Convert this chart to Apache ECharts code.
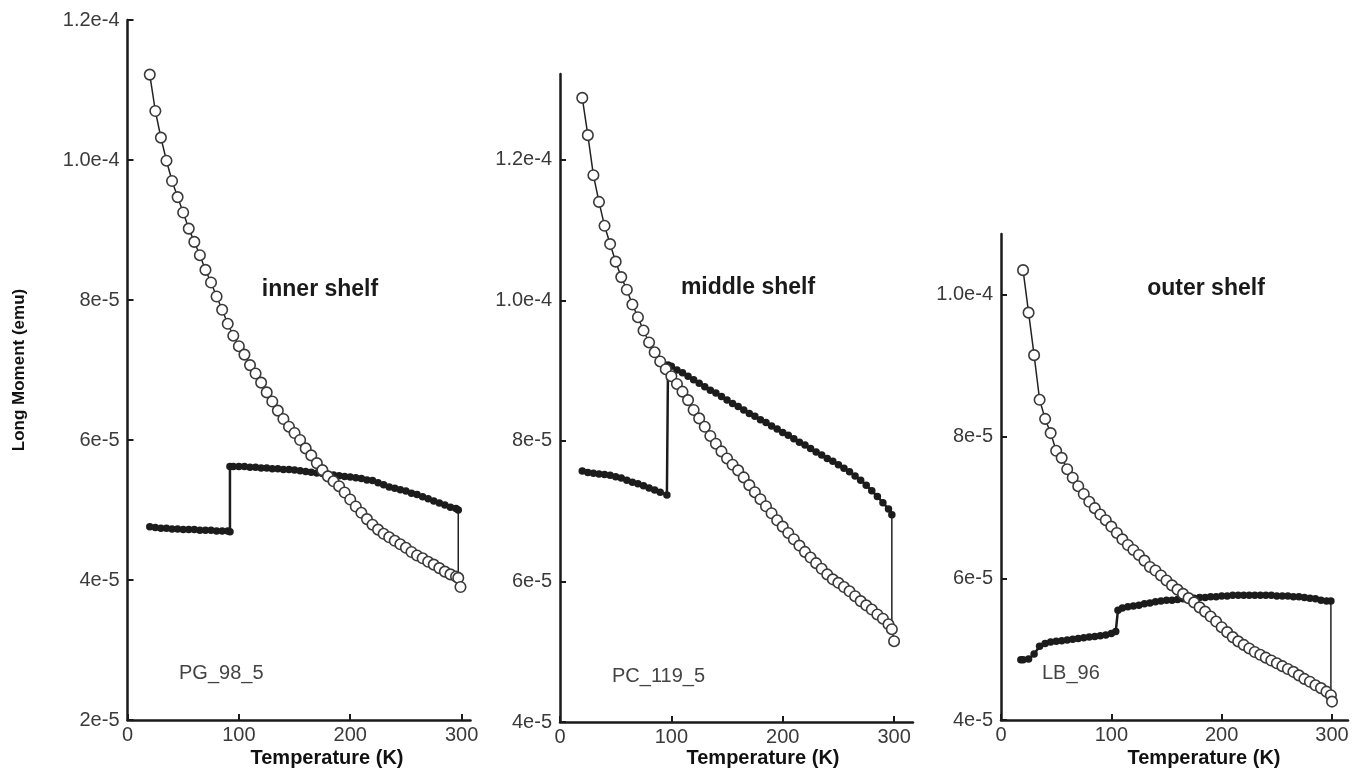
<!DOCTYPE html>
<html><head><meta charset="utf-8">
<script src="https://cdn.jsdelivr.net/npm/echarts@6/dist/echarts.min.js"></script>
<style>html,body{margin:0;padding:0;background:#fff}#c{width:1362px;height:772px}</style>
</head><body><div id="c"></div>
<script>
// ---- tick labels ----
const xTicks = [0, 100, 200, 300];
const yTicks1 = [2, 4, 6, 8, 10, 12];
const yLabels1 = ['2e-5', '4e-5', '6e-5', '8e-5', '1.0e-4', '1.2e-4'];
const yTicks2 = [4, 6, 8, 10, 12];
const yLabels2 = ['4e-5', '6e-5', '8e-5', '1.0e-4', '1.2e-4'];
const yTicks3 = [4, 6, 8, 10];
const yLabels3 = ['4e-5', '6e-5', '8e-5', '1.0e-4'];
const panelNames = ['inner shelf', 'middle shelf', 'outer shelf'];
const sampleNames = ['PG_98_5', 'PC_119_5', 'LB_96'];
const xTitle = 'Temperature (K)';
const yTitle = 'Long Moment (emu)';

// ---- data (moment in units of 1e-5 emu) ----
// Panel 1: inner shelf, open circles
const cT1 = [20,25,30,35,40,45,50,55,60,65,70,75,80,85,90,95,100,105,110,115,120,125,130,135,140,145,150,155,160,165,170,175,180,185,190,195,200,205,210,215,220,225,230,235,240,245,250,255,260,265,270,275,280,285,290,295,297,299];
const cV1 = [11.22,10.70,10.32,9.99,9.70,9.47,9.25,9.02,8.83,8.64,8.43,8.25,8.05,7.86,7.66,7.49,7.34,7.22,7.07,6.95,6.82,6.68,6.55,6.42,6.30,6.19,6.10,6.00,5.88,5.78,5.67,5.57,5.48,5.41,5.34,5.25,5.15,5.05,4.96,4.87,4.79,4.72,4.66,4.61,4.56,4.51,4.46,4.40,4.35,4.31,4.26,4.22,4.17,4.12,4.08,4.05,4.03,3.90];
// Panel 1: filled dots
const fT1 = [20,25,30,35,40,45,50,55,60,65,70,75,80,85,90,92,92,95,100,105,110,115,120,125,130,135,140,145,150,155,160,165,170,175,180,185,190,195,200,205,210,215,220,225,230,235,240,245,250,255,260,265,270,275,280,285,290,295,297];
const fV1 = [4.76,4.75,4.74,4.74,4.73,4.73,4.72,4.72,4.72,4.71,4.71,4.71,4.70,4.70,4.70,4.69,5.62,5.62,5.62,5.62,5.61,5.61,5.60,5.60,5.59,5.59,5.58,5.58,5.57,5.56,5.55,5.54,5.53,5.52,5.51,5.50,5.49,5.48,5.47,5.46,5.45,5.43,5.42,5.39,5.36,5.33,5.31,5.29,5.27,5.24,5.22,5.19,5.16,5.13,5.10,5.07,5.04,5.02,5.00];

// Panel 2: middle shelf, open circles
const cT2 = [20,25,30,35,40,45,50,55,60,65,70,75,80,85,90,95,100,105,110,115,120,125,130,135,140,145,150,155,160,165,170,175,180,185,190,195,200,205,210,215,220,225,230,235,240,245,250,255,260,265,270,275,280,285,290,295,298,300];
const cV2 = [12.88,12.35,11.78,11.40,11.06,10.80,10.55,10.33,10.15,9.94,9.76,9.57,9.40,9.26,9.13,9.02,8.92,8.81,8.70,8.58,8.44,8.32,8.20,8.07,7.96,7.85,7.75,7.66,7.58,7.48,7.37,7.27,7.17,7.07,6.97,6.87,6.78,6.69,6.60,6.51,6.42,6.34,6.26,6.18,6.10,6.03,5.98,5.92,5.86,5.79,5.72,5.66,5.60,5.53,5.47,5.39,5.32,5.15];
// Panel 2: filled dots
const fT2 = [20,25,30,35,40,45,50,55,60,65,70,75,80,85,90,96,97,100,105,110,115,120,125,130,135,140,145,150,155,160,165,170,175,180,185,190,195,200,205,210,215,220,225,230,235,240,245,250,255,260,265,270,275,280,285,290,295,298];
const fV2 = [7.57,7.55,7.54,7.53,7.52,7.51,7.49,7.47,7.44,7.41,7.39,7.36,7.33,7.30,7.27,7.23,9.08,9.06,9.01,8.97,8.92,8.87,8.82,8.77,8.72,8.68,8.63,8.58,8.53,8.49,8.44,8.39,8.35,8.30,8.26,8.21,8.17,8.12,8.08,8.03,7.98,7.94,7.89,7.84,7.80,7.75,7.71,7.66,7.61,7.56,7.50,7.44,7.37,7.29,7.21,7.12,7.03,6.95];

// Panel 3: outer shelf, open circles
const cT3 = [20,25,30,35,40,45,50,55,60,65,70,75,80,85,90,95,100,105,110,115,120,125,130,135,140,145,150,155,160,165,170,175,180,185,190,195,200,205,210,215,220,225,230,235,240,245,250,255,260,265,270,275,280,285,290,295,299,300];
const cV3 = [10.35,9.75,9.15,8.52,8.25,8.05,7.80,7.70,7.54,7.42,7.30,7.19,7.08,6.99,6.90,6.82,6.73,6.64,6.55,6.47,6.40,6.33,6.25,6.16,6.11,6.04,5.97,5.90,5.84,5.78,5.72,5.66,5.59,5.53,5.46,5.39,5.31,5.24,5.17,5.11,5.06,5.01,4.96,4.92,4.88,4.84,4.80,4.76,4.72,4.68,4.63,4.58,4.54,4.49,4.45,4.40,4.35,4.26];
// Panel 3: filled dots
const fT3 = [18,20,25,30,35,40,45,50,55,60,65,70,75,80,85,90,95,100,104,106,110,115,120,125,130,135,140,145,150,155,160,165,170,175,180,185,190,195,200,205,210,215,220,225,230,235,240,245,250,255,260,265,270,275,280,285,290,295,299];
const fV3 = [4.85,4.85,4.86,4.93,5.04,5.08,5.10,5.11,5.12,5.13,5.14,5.15,5.16,5.17,5.18,5.19,5.20,5.22,5.25,5.55,5.58,5.60,5.61,5.62,5.64,5.65,5.67,5.68,5.69,5.69,5.70,5.71,5.72,5.72,5.73,5.73,5.74,5.74,5.75,5.75,5.76,5.76,5.76,5.76,5.76,5.76,5.76,5.76,5.75,5.75,5.75,5.74,5.74,5.73,5.72,5.71,5.69,5.68,5.68];

// ---- build ----
const FONT = 'Liberation Sans, Arial, Helvetica, sans-serif';
const zip = (t, v) => t.map((x, i) => [x, v[i]]);
const panels = [
  {grid:{left:127.5, top:20, width:343, height:700}, xMax:308, yMin:2, yMax:12, yT:yTicks1, yL:yLabels1, cT:cT1, cV:cV1, fT:fT1, fV:fV1},
  {grid:{left:560, top:74, width:353, height:648}, xMax:317, yMin:4, yMax:13.22, yT:yTicks2, yL:yLabels2, cT:cT2, cV:cV2, fT:fT2, fV:fV2},
  {grid:{left:1001, top:234, width:347, height:486}, xMax:314.5, yMin:4, yMax:10.86, yT:yTicks3, yL:yLabels3, cT:cT3, cV:cV3, fT:fT3, fV:fV3}
];
const grid = [], xAxis = [], yAxis = [], series = [];
panels.forEach((p, i) => {
  grid.push(Object.assign({containLabel:false}, p.grid));
  xAxis.push({
    gridIndex:i, type:'value', min:0, max:p.xMax,
    axisLine:{onZero:false, lineStyle:{color:'#1a1a1a', width:2.5}},
    axisTick:{customValues:xTicks, inside:true, length:6, lineStyle:{color:'#1a1a1a', width:2}},
    axisLabel:{customValues:xTicks, color:'#3a3a3a', fontSize:20, fontFamily:FONT, margin:5},
    splitLine:{show:false}
  });
  yAxis.push({
    gridIndex:i, type:'value', min:p.yMin, max:p.yMax,
    axisLine:{show:true, onZero:false, lineStyle:{color:'#1a1a1a', width:2.5}},
    axisTick:{show:true, customValues:p.yT, inside:true, length:6, lineStyle:{color:'#1a1a1a', width:2}},
    axisLabel:{customValues:p.yT, color:'#3a3a3a', fontSize:20, fontFamily:FONT, margin:8,
      formatter:(v) => { const k = p.yT.findIndex(t => Math.abs(t - v) < 1e-6); return k >= 0 ? p.yL[k] : ''; }},
    splitLine:{show:false}
  });
  series.push({
    type:'line', xAxisIndex:i, yAxisIndex:i, data:zip(p.fT, p.fV),
    symbol:'circle', symbolSize:7.5, showSymbol:true,
    itemStyle:{color:'#1c1c1c'}, lineStyle:{color:'#1c1c1c', width:2.5},
    silent:true, z:2
  });
  series.push({
    type:'line', xAxisIndex:i, yAxisIndex:i,
    data:[[p.fT[p.fT.length-1], p.fV[p.fV.length-1]], [p.cT[p.cT.length-2], p.cV[p.cV.length-2]]],
    symbol:'none', lineStyle:{color:'#222', width:1.5}, silent:true, z:2
  });
  series.push({
    type:'line', xAxisIndex:i, yAxisIndex:i, data:zip(p.cT, p.cV),
    symbol:'circle', symbolSize:10.5, showSymbol:true,
    itemStyle:{color:'#ffffff', borderColor:'#3a3a3a', borderWidth:1.6},
    lineStyle:{color:'#222', width:1.5}, silent:true, z:3
  });
});

const txt = (x, y, t, size, weight, color, align, extra) => Object.assign({
  type:'text', x:x, y:y, silent:true,
  style:{text:t, fontSize:size, fontWeight:weight, fontFamily:FONT, fill:color, align:align, verticalAlign:'middle'}
}, extra || {});
const graphic = [
  txt(19, 370, yTitle, 17, 'bold', '#111', 'center', {rotation:Math.PI/2}),
  txt(327, 758, xTitle, 20, 'bold', '#111', 'center'),
  txt(763, 758, xTitle, 20, 'bold', '#111', 'center'),
  txt(1204, 758, xTitle, 20, 'bold', '#111', 'center'),
  txt(320, 290, panelNames[0], 23, 'bold', '#1a1a1a', 'center'),
  txt(748, 288, panelNames[1], 23, 'bold', '#1a1a1a', 'center'),
  txt(1206, 289, panelNames[2], 23, 'bold', '#1a1a1a', 'center'),
  txt(179, 673, sampleNames[0], 20, 'normal', '#444', 'left'),
  txt(612, 676, sampleNames[1], 20, 'normal', '#444', 'left'),
  txt(1042, 673, sampleNames[2], 20, 'normal', '#444', 'left')
];

const chart = echarts.init(document.getElementById('c'), null, {renderer:'canvas'});
chart.setOption({animation:false, backgroundColor:'#ffffff', grid, xAxis, yAxis, series, graphic});
</script>
</body></html>
